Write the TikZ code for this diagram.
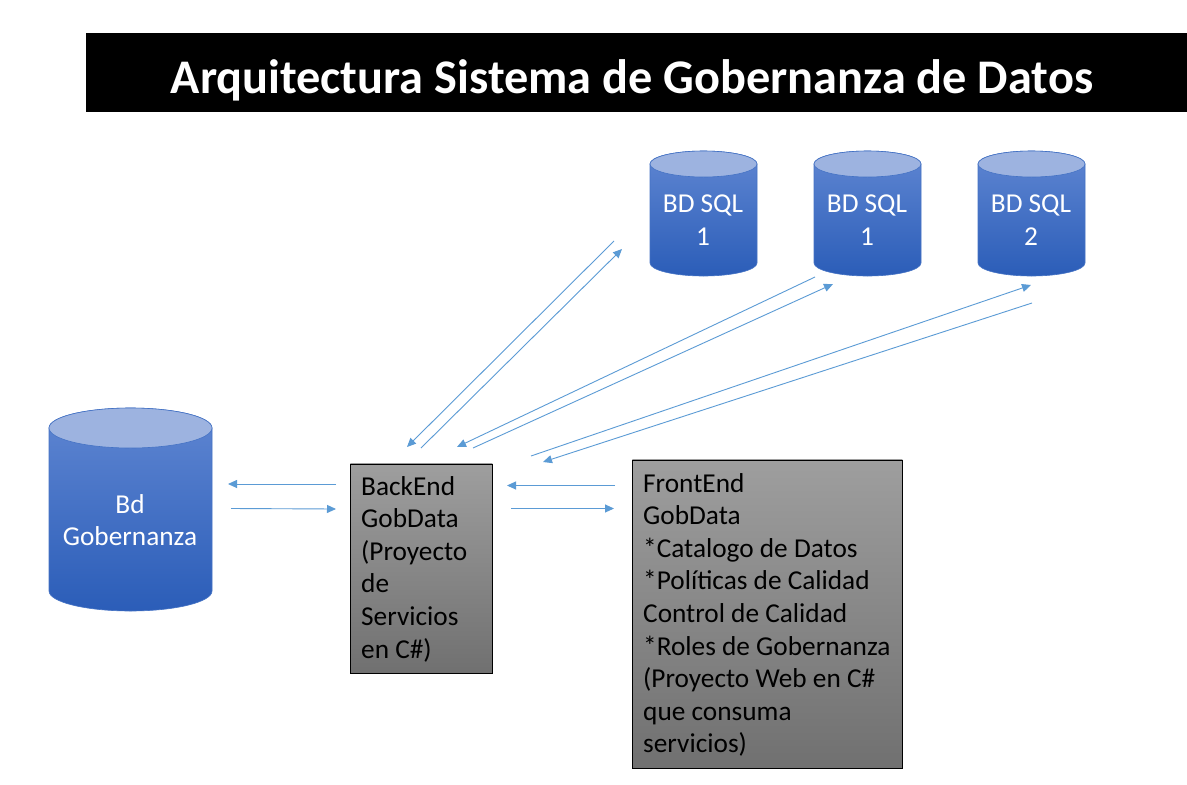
\documentclass[tikz,border=0pt]{standalone}
\usepackage{fontspec}
\setmainfont{Carlito}
\usetikzlibrary{arrows.meta}
\definecolor{arrowblue}{HTML}{5B9BD5}
\definecolor{cyltop}{HTML}{5F86D2}
\definecolor{cylbot}{HTML}{2B5DB8}
\definecolor{cylcap}{HTML}{9DB3E0}
\definecolor{cyledge}{HTML}{4472C4}
\tikzset{
  x=1pt,y=-1pt,
  link/.style={draw=arrowblue,line width=0.9pt,-{Triangle[length=9pt,width=8pt]}},
  graybox/.style={draw=black,line width=0.8pt,top color=black!38,bottom color=black!56,anchor=north west,inner sep=0pt},
  boxtext/.style={align=left,anchor=north west,inner sep=0pt,font=\fontsize{27.3}{32.6}\selectfont,text=black},
  cyltext/.style={align=center,text=white,inner sep=0pt,font=\fontsize{27.3}{32.6}\selectfont},
  titletext/.style={text=white,font=\fontsize{48.3}{56}\selectfont\bfseries,inner sep=0pt}
}
% #1 left, #2 right, #3 top, #4 bottom, #5 cap half height
\newcommand{\dbcyl}[5]{%
  \path[draw=cyledge,line width=0.6pt,top color=cyltop,bottom color=cylbot]
    (#1,#3+#5) -- (#1,#4-#5)
    arc[start angle=180,end angle=360,x radius={(#2-#1)/2},y radius=-#5]
    -- (#2,#3+#5)
    arc[start angle=0,end angle=180,x radius={(#2-#1)/2},y radius=-#5] -- cycle;
  \path[draw=cyledge,line width=0.6pt,fill=cylcap]
    ({(#1+#2)/2},{#3+#5}) ellipse[x radius={(#2-#1)/2},y radius=#5];
}
\begin{document}
\begin{tikzpicture}
\useasboundingbox (0,0) rectangle (1187,785);
\fill[white] (0,0) rectangle (1187,785);
\fill[black] (86,33) rectangle (1187,112);
\node[titletext] (title) at (632,80.500) {Arquitectura Sistema de Gobernanza de Datos};

\dbcyl{650}{757}{151}{276}{13}
\dbcyl{814}{921}{151}{276}{13}
\dbcyl{978}{1085}{151}{276}{13}
\dbcyl{49}{212}{408}{611}{20}

\node[cyltext] (sqla) at (703,220) {BD SQL\\1};
\node[cyltext] (sqlb) at (867,220) {BD SQL\\1};
\node[cyltext] (sqlc) at (1031,220) {BD SQL\\2};
\node[cyltext] (gob) at (130,520) {Bd\\Gobernanza};

\node[graybox,minimum width=142pt,minimum height=209pt] (back) at (350,463.500) {};
\node[boxtext] (backt) at (361,476) {BackEnd\\GobData\\(Proyecto\\de\\Servicios\\en C\#)};
\node[graybox,minimum width=270pt,minimum height=308pt] (front) at (632,459.500) {};
\node[boxtext] (frontt) at (643,473) {FrontEnd\\GobData\\*Catalogo de Datos\\*Políticas de Calidad\\Control de Calidad\\*Roles de Gobernanza\\(Proyecto Web en C\#\\que consuma\\servicios)};

\coordinate (a1) at (614,241); \coordinate (a2) at (407,447);
\coordinate (a3) at (421,448); \coordinate (a4) at (622,249);
\coordinate (b1) at (815,277); \coordinate (b2) at (457,447);
\coordinate (b3) at (473,448); \coordinate (b4) at (833,284);
\coordinate (c1) at (1032,303); \coordinate (c2) at (543,462);
\coordinate (c3) at (531,456); \coordinate (c4) at (1031,285);
\coordinate (d1) at (336,484); \coordinate (d2) at (228,484);
\coordinate (d3) at (231,508.500); \coordinate (d4) at (336,509);
\coordinate (e1) at (615,485.500); \coordinate (e2) at (507,485.500);
\coordinate (e3) at (511,508.500); \coordinate (e4) at (614,508.500);
\draw[link] (a1) -- (a2);
\draw[link] (a3) -- (a4);
\draw[link] (b1) -- (b2);
\draw[link] (b3) -- (b4);
\draw[link] (c1) -- (c2);
\draw[link] (c3) -- (c4);
\draw[link] (d1) -- (d2);
\draw[link] (d3) -- (d4);
\draw[link] (e1) -- (e2);
\draw[link] (e3) -- (e4);
\end{tikzpicture}
\end{document}
